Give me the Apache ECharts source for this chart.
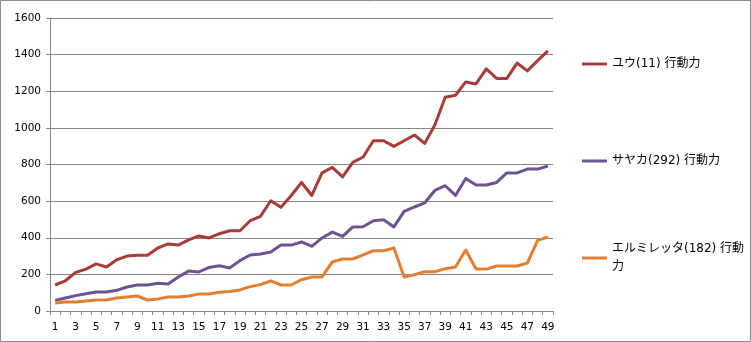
<!DOCTYPE html>
<html>
<head>
<meta charset="utf-8">
<script src="https://cdn.jsdelivr.net/npm/echarts@6/dist/echarts.min.js"></script>
<style>
html,body{margin:0;padding:0;background:#fff;}
#chart{width:751px;height:342px;}
</style>
</head>
<body>
<div id="chart"></div>
<script>
const categories = Array.from({length: 49}, (_, i) => String(i + 1));
const seriesNames = ['ユウ(11) 行動力', 'サヤカ(292) 行動力', 'エルミレッタ(182) 行動力'];
const yuu = [142,165,211,229,257,240,280,300,304,304,344,366,360,388,410,399,422,438,438,493,517,602,566,631,702,631,754,784,732,812,841,930,930,899,930,961,915,1017,1167,1178,1251,1240,1322,1270,1270,1354,1311,1367,1420];
const sayaka = [58,71,84,94,104,104,113,131,142,142,151,147,186,218,213,238,247,235,275,306,311,322,360,360,377,353,399,431,407,459,460,493,498,459,544,568,590,659,684,631,724,688,688,702,754,754,775,775,792];
const erumiretta = [44,49,49,55,60,60,71,76,82,60,66,76,76,82,93,93,102,107,115,133,144,164,142,142,171,186,186,268,284,284,306,329,329,344,186,198,215,215,231,240,333,229,229,246,246,246,262,386,404];
const yTicks = {min: 0, max: 1600, interval: 200};

const colors = ['#A63D3A', '#6E5391', '#E27F33'];
const values = [yuu, sayaka, erumiretta];
const fontLatin = "'DejaVu Sans', 'Noto Sans CJK JP', sans-serif";

const chart = echarts.init(document.getElementById('chart'));
const legendTops = [59, 156, 253];
const lh = 18;
const legends = seriesNames.map((name, i) => {
  const multi = i === 2;
  return {
    orient: 'vertical',
    left: 577,
    top: multi ? legendTops[i] - 1.5 * lh : legendTops[i] - lh / 2,
    icon: 'rect',
    itemWidth: 25,
    itemHeight: 3,
    data: [{name: name}],
    textStyle: {
      fontFamily: fontLatin,
      fontSize: 12,
      color: '#000',
      lineHeight: lh,
      width: 136,
      overflow: 'break',
      padding: multi ? [lh, 0, 0, 0] : 0
    },
    selectedMode: false
  };
});

chart.setOption({
  animation: false,
  backgroundColor: '#fff',
  graphic: [{
    type: 'rect',
    shape: {x: 0.5, y: 0.5, width: 750, height: 341},
    style: {fill: 'none', stroke: '#8c8c8c', lineWidth: 1},
    silent: true
  }],
  legend: legends,
  grid: {left: 50, right: 198, top: 18, bottom: 31, containLabel: false},
  xAxis: {
    type: 'category',
    data: categories,
    boundaryGap: true,
    axisLine: {lineStyle: {color: '#868686', width: 1}},
    axisTick: {show: true, interval: 0, length: 4, lineStyle: {color: '#868686'}},
    axisLabel: {interval: 1, margin: 11, color: '#000', fontSize: 10.5, fontFamily: fontLatin},
    splitLine: {show: false}
  },
  yAxis: {
    type: 'value',
    min: yTicks.min,
    max: yTicks.max,
    interval: yTicks.interval,
    axisLine: {show: true, lineStyle: {color: '#868686', width: 1}},
    axisTick: {show: true, length: 4, lineStyle: {color: '#868686'}},
    axisLabel: {color: '#000', fontSize: 10.5, fontFamily: fontLatin, margin: 9, formatter: v => String(v)},
    splitLine: {show: true, lineStyle: {color: '#868686', width: 1}}
  },
  series: seriesNames.map((name, i) => ({
    name: name,
    type: 'line',
    data: values[i],
    symbol: 'none',
    lineStyle: {color: colors[i], width: 3, join: 'round'},
    itemStyle: {color: colors[i]}
  }))
});
</script>
</body>
</html>
